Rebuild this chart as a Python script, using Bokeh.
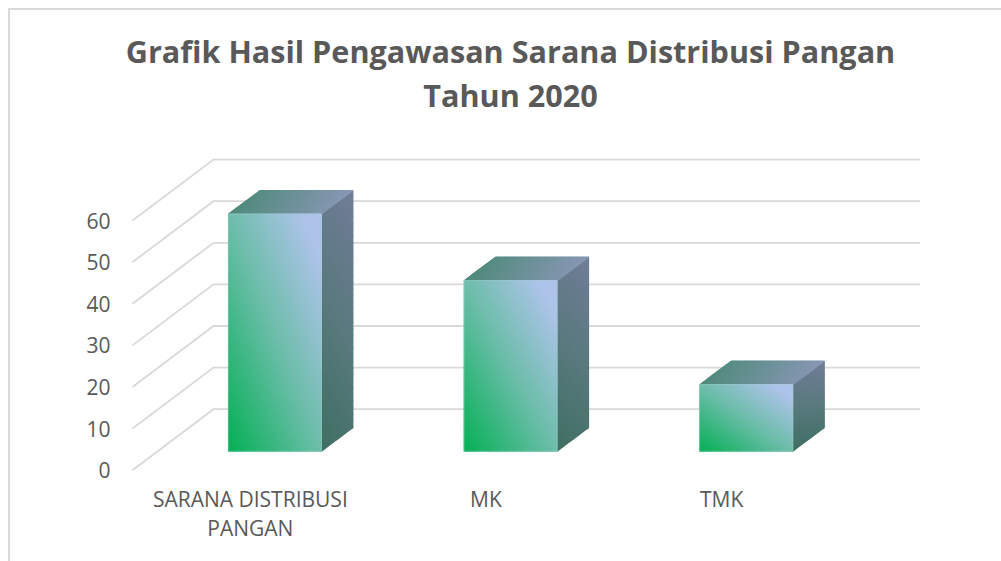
from bokeh.plotting import figure
from bokeh.models import FixedTicker, Range1d, Title
from bokeh.embed import file_html
from bokeh.resources import INLINE

# ---- chart values ----
TITLE_LINES = ["Grafik Hasil Pengawasan Sarana Distribusi Pangan", "Tahun 2020"]
categories = ["SARANA DISTRIBUSI\nPANGAN", "MK", "TMK"]
values = [57, 41, 16]
y_ticks = [0, 10, 20, 30, 40, 50, 60]

# ---- oblique projection, in data units ----
PX_X, PX_Y = 235.6, 4.16
WALL_X, WALL_Y = 81 / PX_X, 61 / PX_Y      # front plane -> back wall
FRONT_X, FRONT_Y = 24.6 / PX_X, 19 / PX_Y    # front plane -> bar front
DEPTH_X, DEPTH_Y = 31.5 / PX_X, 23.5 / PX_Y    # bar front -> bar back
BAR_W = 92.8 / PX_X
X0 = -0.5
X1 = 2.5 + WALL_X
GRID = "#d9d9d9"
TEXT = "#595959"


def hex_rgb(h):
    return tuple(int(h[i:i + 2], 16) for i in (1, 3, 5))


def ramp(stops, t):
    t = max(0.0, min(1.0, t))
    for (t0, c0), (t1, c1) in zip(stops, stops[1:]):
        if t <= t1:
            f = (t - t0) / (t1 - t0)
            a, b = hex_rgb(c0), hex_rgb(c1)
            return "#%02x%02x%02x" % tuple(round(a[k] + (b[k] - a[k]) * f) for k in range(3))
    return stops[-1][1]


def clip(poly, a, b, c):
    """keep the part of poly where a*u + b*v >= c"""
    out = []
    for (p, q) in zip(poly, poly[1:] + poly[:1]):
        fp, fq = a * p[0] + b * p[1] - c, a * q[0] + b * q[1] - c
        if fp >= 0:
            out.append(p)
        if (fp >= 0) != (fq >= 0):
            s = fp / (fp - fq)
            out.append((p[0] + (q[0] - p[0]) * s, p[1] + (q[1] - p[1]) * s))
    return out


FRONT_STOPS = [(0, "#04b054"), (0.5, "#6dbdaa"), (0.9, "#aec3ea"), (1, "#aec3ea")]
SIDE_STOPS = [(0, "#3f6f62"), (0.55, "#5b7a80"), (1, "#717c97")]
TOP_STOPS = [(0, "#4e8a7a"), (1, "#8897b4")]
BANDS = 48


def face(store, origin, e1, e2, wu, wv, stops):
    """gradient-filled parallelogram, cut in slanted bands along wu*u + wv*v"""
    square = [(0, 0), (1, 0), (1, 1), (0, 1)]
    for k in range(BANDS):
        lo, hi = k / BANDS, (k + 1) / BANDS
        poly = clip(clip(square, wu, wv, lo), -wu, -wv, -hi)
        if len(poly) < 3:
            continue
        store["xs"].append([origin[0] + u * e1[0] + v * e2[0] for u, v in poly])
        store["ys"].append([origin[1] + u * e1[1] + v * e2[1] for u, v in poly])
        store["c"].append(ramp(stops, (lo + hi) / 2))


p = figure(width=1001, height=561, output_backend="svg", toolbar_location=None,
           x_range=Range1d(X0 - 32 / PX_X, X1), y_range=Range1d(-2, -2 + 363 / PX_Y),
           min_border_left=100, min_border_right=81, min_border_top=115, min_border_bottom=83,
           outline_line_color=None, background_fill_color=None, border_fill_color=None)
p.grid.visible = False
# chart-area border: only its left and top edges fall inside the picture
p.styles = {
    "background": f"linear-gradient({GRID},{GRID}) 8px 8px / 2px 100% no-repeat,"
                  f"linear-gradient({GRID},{GRID}) 8px 8px / 100% 2px no-repeat",
}

# title: one centred Title per line
p.title = None
for line in reversed(TITLE_LINES):
    p.add_layout(Title(text=line, align="center", text_font="Open Sans",
                       text_font_size="30.6px", text_font_style="bold",
                       text_color=TEXT, standoff=0), "above")

# axes
p.yaxis.ticker = FixedTicker(ticks=y_ticks)
p.yaxis.axis_line_color = None
p.yaxis.major_tick_line_color = None
p.yaxis.minor_tick_line_color = None
p.yaxis.major_tick_out = 0
p.yaxis.major_label_standoff = -10
p.yaxis.major_label_text_font = "Open Sans"
p.yaxis.major_label_text_font_size = "21px"
p.yaxis.major_label_text_color = TEXT

p.xaxis.ticker = FixedTicker(ticks=list(range(len(categories))))
p.xaxis.major_label_overrides = {i: c for i, c in enumerate(categories)}
p.xaxis.axis_line_color = None
p.xaxis.major_tick_line_color = None
p.xaxis.minor_tick_line_color = None
p.xaxis.major_tick_out = 0
p.xaxis.major_label_standoff = 6
p.xaxis.major_label_text_font = "Open Sans"
p.xaxis.major_label_text_font_size = "21px"
p.xaxis.major_label_text_color = TEXT
p.xaxis.major_label_text_line_height = 1.06

# walls
p.multi_line(xs=[[X0, X0 + WALL_X, X1] for _ in y_ticks],
             ys=[[v, v + WALL_Y, v + WALL_Y] for v in y_ticks],
             line_color=GRID, line_width=1.8, line_join="miter")

# bars
for i, v in enumerate(values):
    left = i + FRONT_X - BAR_W / 2
    base = FRONT_Y
    store = {"xs": [], "ys": [], "c": []}
    face(store, (left + BAR_W, base), (DEPTH_X, DEPTH_Y), (0, v), 0.25, 0.75, SIDE_STOPS)
    face(store, (left, base + v), (BAR_W, 0), (DEPTH_X, DEPTH_Y), 0.85, 0.15, TOP_STOPS)
    face(store, (left, base), (BAR_W, 0), (0, v), 0.5, 0.5, FRONT_STOPS)
    p.patches(xs=store["xs"], ys=store["ys"], fill_color=store["c"], line_color=store["c"],
              line_width=1.2)
    p.multi_line(xs=[[left, left, left + BAR_W, left + BAR_W, left]],
                 ys=[[base, base + v, base + v, base, base]],
                 line_color="#9fd0c8", line_width=0.8, line_alpha=0.5)

open("out.html", "w").write(file_html(p, INLINE))
